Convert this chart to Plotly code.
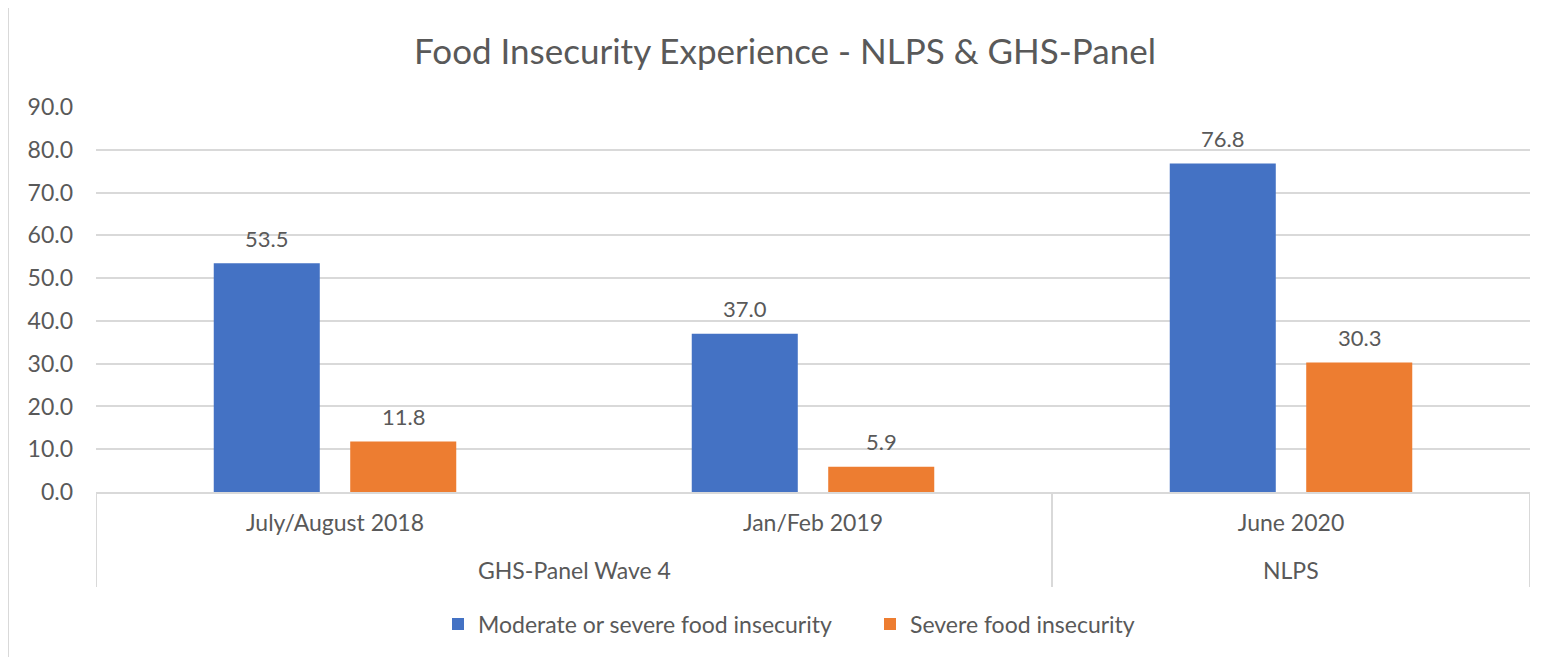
import plotly.graph_objects as go

# ---- data ----
surveys = ["GHS-Panel Wave 4", "GHS-Panel Wave 4", "NLPS"]
periods = ["July/August 2018", "Jan/Feb 2019", "June 2020"]
moderate_or_severe = [53.5, 37.0, 76.8]
severe = [11.8, 5.9, 30.3]
series_names = ["Moderate or severe food insecurity", "Severe food insecurity"]
colors = ["#4472C4", "#ED7D31"]
title_text = "Food Insecurity Experience - NLPS & GHS-Panel"

FONT = "Lato"
TXT = "#595959"
GRID = "#D9D9D9"
OFF = 8                       # page body margin
W, H = 1549 - OFF, 657 - OFF
PL, PR, PT, PB = 96, 1530, 107, 492   # plot area in page pixels
L, R, T, B = PL - OFF, 1549 - PR, PT - OFF, 657 - PB
pw, ph = PR - PL, PB - PT

def px_x(x):  # page px -> paper x
    return (x - PL) / pw

def px_y(y):  # page px -> paper y
    return (PB - y) / ph

BARGAP = 0.429
fig = go.Figure()
for name, vals, col in zip(series_names, [moderate_or_severe, severe], colors):
    fig.add_trace(go.Bar(
        x=periods, y=vals, name=name,
        marker=dict(color=col, line=dict(width=0)),
    ))

# data labels above bars (centred on each bar of the group)
annotations = []
nser = len(series_names)
slot = (1 - BARGAP) / nser
for k, vals in enumerate([moderate_or_severe, severe]):
    off = -(1 - BARGAP) / 2 + slot * (k + 0.5)
    for i, v in enumerate(vals):
        annotations.append(dict(
            x=i + off, y=v, xref="x", yref="y", text=f"{v:.1f}",
            showarrow=False, yanchor="middle", yshift=25,
            font=dict(family=FONT, size=22, color=TXT)))

# second category level (survey) labels and dividers
groups = []
for i, s in enumerate(surveys):
    if not groups or groups[-1][0] != s:
        groups.append([s, i, i])
    else:
        groups[-1][2] = i
shapes = []
for s, a, b in groups:
    annotations.append(dict(
        x=(a + b) / 2, y=px_y(570), xref="x", yref="paper", text=s,
        showarrow=False, yanchor="middle",
        font=dict(family=FONT, size=23, color=TXT)))
bounds = sorted({g[1] - 0.5 for g in groups} | {g[2] + 0.5 for g in groups})
for bx in bounds:
    shapes.append(dict(type="line", xref="x", yref="paper", x0=bx, x1=bx,
                       y0=0, y1=px_y(587), line=dict(color=GRID, width=2)))

# outer chart border
shapes.append(dict(type="rect", xref="paper", yref="paper",
                   x0=px_x(8), x1=px_x(1570), y0=px_y(680), y1=px_y(7),
                   line=dict(color=GRID, width=2), layer="below"))

fig.update_layout(
    width=W, height=H,
    margin=dict(l=L, r=R, t=T, b=B, autoexpand=False),
    paper_bgcolor="white", plot_bgcolor="white",
    barmode="group", bargap=BARGAP, bargroupgap=0.223,
    font=dict(family=FONT, color=TXT, size=23),
    title=dict(text=title_text, x=(785 - OFF) / W, xref="container", xanchor="center",
               y=1 - (52 - OFF) / H, yanchor="middle",
               font=dict(family=FONT, size=35, color=TXT)),
    showlegend=True,
    legend=dict(orientation="h", x=px_x(452 - 14), xanchor="left",
                y=px_y(624), yanchor="middle", entrywidth=387,
                font=dict(family=FONT, size=23, color=TXT),
                itemwidth=30, traceorder="normal"),
    xaxis=dict(type="category", range=[-0.5, len(periods) - 0.5],
               showline=True, linecolor=GRID, linewidth=2,
               ticks="", ticklabelstandoff=9,
               tickfont=dict(family=FONT, size=23, color=TXT)),
    yaxis=dict(range=[0, 90], dtick=10, tickformat=".1f", showgrid=True,
               gridcolor=GRID, gridwidth=2, zeroline=False, showline=False,
               ticks="", ticklabelstandoff=22,
               tickfont=dict(family=FONT, size=23, color=TXT)),
    annotations=annotations,
    shapes=shapes,
)

fig.write_html("out.html")
